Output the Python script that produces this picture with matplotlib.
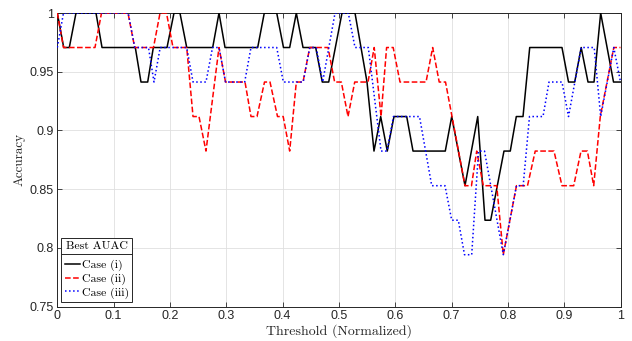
import matplotlib
matplotlib.use('Agg')
import matplotlib.pyplot as plt
from matplotlib.lines import Line2D
from matplotlib.ticker import FixedLocator, FuncFormatter

# ---------------- data ----------------
thr_case1 = [0, 0.0114, 0.0213, 0.0332, 0.0687, 0.0794, 0.1385, 0.1486, 0.1605, 0.1705,
             0.1948, 0.2072, 0.2178, 0.2298, 0.2759, 0.2871, 0.2978, 0.3558, 0.3675, 0.3896,
             0.4016, 0.4126, 0.4244, 0.4363, 0.4588, 0.4705, 0.4819, 0.5055, 0.5286, 0.5499,
             0.5623, 0.5742, 0.5859, 0.5978, 0.6204, 0.6316, 0.6889, 0.7003, 0.7239, 0.7465,
             0.7594, 0.7695, 0.7931, 0.8043, 0.8150, 0.8269, 0.8388, 0.8961, 0.9077, 0.9187,
             0.9302, 0.9423, 0.9530, 0.9648, 0.9876, 1.0]
acc_case1 = [1.0, 0.9706, 0.9706, 1.0, 1.0, 0.9706, 0.9706, 0.9412, 0.9412, 0.9706,
             0.9706, 1.0, 1.0, 0.9706, 0.9706, 1.0, 0.9706, 0.9706, 1.0, 1.0,
             0.9706, 0.9706, 1.0, 0.9706, 0.9706, 0.9412, 0.9412, 1.0, 1.0, 0.9412,
             0.8824, 0.9118, 0.8824, 0.9118, 0.9118, 0.8824, 0.8824, 0.9118, 0.8529, 0.9118,
             0.8235, 0.8235, 0.8824, 0.8824, 0.9118, 0.9118, 0.9706, 0.9706, 0.9412, 0.9412,
             0.9706, 0.9412, 0.9412, 1.0, 0.9412, 0.9412]

thr_case2 = [0, 0.0110, 0.0669, 0.0785, 0.1255, 0.1374, 0.1708, 0.1824, 0.1939, 0.2054,
             0.2298, 0.2410, 0.2516, 0.2640, 0.2871, 0.2987, 0.3333, 0.3439, 0.3546, 0.3679,
             0.3777, 0.3910, 0.4011, 0.4126, 0.4244, 0.4363, 0.4482, 0.4807, 0.4924, 0.5043,
             0.5162, 0.5281, 0.5517, 0.5627, 0.5748, 0.5847, 0.5964, 0.6085, 0.6547, 0.6665,
             0.6781, 0.6893, 0.7239, 0.7354, 0.7447, 0.7564, 0.7802, 0.7919, 0.8153, 0.8349,
             0.8486, 0.8819, 0.8961, 0.9169, 0.9299, 0.9412, 0.9524, 0.9641, 0.9881, 1.0]
acc_case2 = [1.0, 0.9706, 0.9706, 1.0, 1.0, 0.9706, 0.9706, 1.0, 1.0, 0.9706,
             0.9706, 0.9118, 0.9118, 0.8824, 0.9706, 0.9412, 0.9412, 0.9118, 0.9118, 0.9412,
             0.9412, 0.9118, 0.9118, 0.8824, 0.9412, 0.9412, 0.9706, 0.9706, 0.9412, 0.9412,
             0.9118, 0.9412, 0.9412, 0.9706, 0.9118, 0.9706, 0.9706, 0.9412, 0.9412, 0.9706,
             0.9412, 0.9412, 0.8529, 0.8529, 0.8824, 0.8529, 0.8529, 0.7941, 0.8529, 0.8529,
             0.8824, 0.8824, 0.8529, 0.8529, 0.8824, 0.8824, 0.8529, 0.9118, 0.9706, 0.9706]

thr_case3 = [0, 0.0110, 0.1259, 0.1376, 0.1619, 0.1717, 0.1827, 0.2298, 0.2410, 0.2640,
             0.2756, 0.2871, 0.2987, 0.3327, 0.3439, 0.3896, 0.4013, 0.4366, 0.4483, 0.4597,
             0.4712, 0.4931, 0.5167, 0.5286, 0.5522, 0.5748, 0.5854, 0.5969, 0.6431, 0.6648,
             0.6884, 0.7003, 0.7120, 0.7230, 0.7358, 0.7479, 0.7585, 0.7919, 0.8153, 0.8272,
             0.8384, 0.8624, 0.8731, 0.8961, 0.9077, 0.9302, 0.9533, 0.9648, 0.9881, 1.0]
acc_case3 = [0.9706, 1.0, 1.0, 0.9706, 0.9706, 0.9412, 0.9706, 0.9706, 0.9412, 0.9412,
             0.9706, 0.9706, 0.9412, 0.9412, 0.9706, 0.9706, 0.9412, 0.9412, 0.9706, 0.9706,
             0.9412, 1.0, 1.0, 0.9706, 0.9706, 0.8824, 0.8824, 0.9118, 0.9118, 0.8529,
             0.8529, 0.8235, 0.8235, 0.7941, 0.7941, 0.8824, 0.8824, 0.7941, 0.8529, 0.8529,
             0.9118, 0.9118, 0.9412, 0.9412, 0.9118, 0.9706, 0.9706, 0.9118, 0.9706, 0.9412]

series_labels = ['Case (i)', 'Case (ii)', 'Case (iii)']
legend_title = 'Best AUAC'
x_ticks = [0, 0.1, 0.2, 0.3, 0.4, 0.5, 0.6, 0.7, 0.8, 0.9, 1]
y_ticks = [0.75, 0.8, 0.85, 0.9, 0.95, 1]

# ---------------- figure ----------------
W, H = 632, 341
plt.rcParams['font.family'] = ['Liberation Sans', 'DejaVu Sans']
fig = plt.figure(figsize=(W / 100, H / 100), dpi=100)
ax = fig.add_axes([57.3 / W, 34.5 / H, 563.2 / W, 293.5 / H])

axc = '#262626'
ax.plot(thr_case1, acc_case1, color='black', lw=1.1, ls='-', label=series_labels[0], zorder=3)
ax.plot(thr_case2, acc_case2, color='#ff0000', lw=1.1, ls='--', label=series_labels[1], zorder=4)
ax.plot(thr_case3, acc_case3, color='#0000ff', lw=1.1, ls=':', label=series_labels[2], zorder=5)

ax.set_xlim(0, 1)
ax.set_ylim(0.75, 1)
ax.xaxis.set_major_locator(FixedLocator(x_ticks))
ax.yaxis.set_major_locator(FixedLocator(y_ticks))
fmt = FuncFormatter(lambda v, p: ('%g' % v))
ax.xaxis.set_major_formatter(fmt)
ax.yaxis.set_major_formatter(fmt)
ax.grid(True, color='#dfdfdf', lw=0.6, zorder=0)
ax.set_axisbelow(True)
ax.tick_params(direction='in', top=True, right=True, length=3.5, width=0.6,
               colors=axc, labelsize=9, pad=2.5)
for sp in ax.spines.values():
    sp.set_color(axc)
    sp.set_linewidth(0.7)

ax.set_xlabel('Threshold (Normalized)', family='cmr10', fontsize=10, color=axc, labelpad=1.5)
ax.set_ylabel('Accuracy', family='cmr10', fontsize=9.5, color=axc, labelpad=3)

leg = ax.legend(loc='lower left', bbox_to_anchor=(0.0066, 0.0143), borderaxespad=0,
                title=legend_title, prop={'family': 'cmr10', 'size': 8.5},
                title_fontproperties={'family': 'cmr10', 'size': 8.5},
                fancybox=False, framealpha=1, edgecolor=axc, borderpad=0.3,
                labelspacing=0.2, handlelength=1.35, handletextpad=0.1)
leg.get_frame().set_linewidth(0.7)
leg._legend_box.sep = 6

fig.canvas.draw()
r = fig.canvas.get_renderer()
tb = leg.get_title().get_window_extent(r)
fb = leg.get_frame().get_window_extent(r)
inv = fig.transFigure.inverted()
(x0, y0) = inv.transform((fb.x0, tb.y0 - 3))
(x1, _) = inv.transform((fb.x1, tb.y0 - 3))
fig.add_artist(Line2D([x0, x1], [y0, y0], transform=fig.transFigure, color=axc, lw=0.7, zorder=10))

fig.savefig('out.png', dpi=100)
